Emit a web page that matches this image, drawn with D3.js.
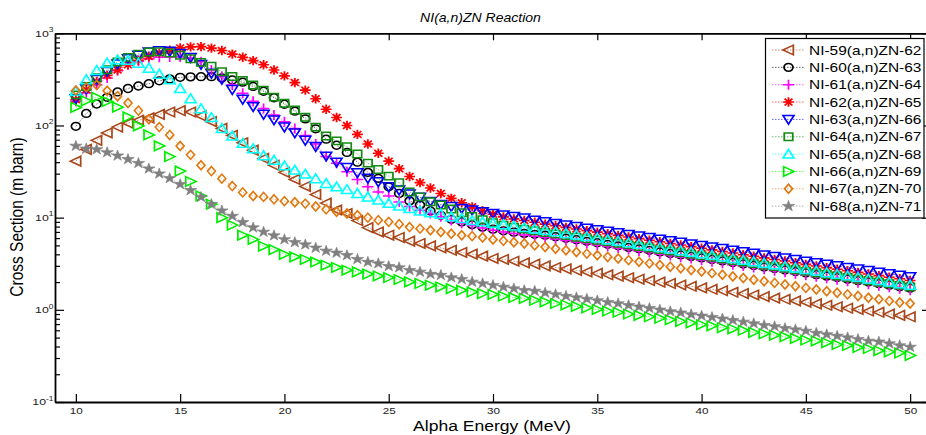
<!DOCTYPE html>
<html><head><meta charset="utf-8">
<script src="https://cdn.jsdelivr.net/npm/d3@7"></script>
<style>
html,body{margin:0;padding:0;background:#fff;}
svg{display:block;font-family:"Liberation Sans",Arial,Helvetica,sans-serif;}
</style></head><body>
<svg id="chart" width="926" height="435"></svg>
<script>
// ---------------- DATA ----------------
const energy = [10,10.5,11,11.5,12,12.5,13,13.5,14,14.5,15,15.5,16,16.5,17,17.5,18,18.5,19,19.5,
  20,20.5,21,21.5,22,22.5,23,23.5,24,24.5,25,25.5,26,26.5,27,27.5,28,28.5,29,29.5,
  30,30.5,31,31.5,32,32.5,33,33.5,34,34.5,35,35.5,36,36.5,37,37.5,38,38.5,39,39.5,
  40,40.5,41,41.5,42,42.5,43,43.5,44,44.5,45,45.5,46,46.5,47,47.5,48,48.5,49,49.5,50];

const seriesNames = ["NI-59(a,n)ZN-62","NI-60(a,n)ZN-63","NI-61(a,n)ZN-64","NI-62(a,n)ZN-65","NI-63(a,n)ZN-66",
  "NI-64(a,n)ZN-67","NI-65(a,n)ZN-68","NI-66(a,n)ZN-69","NI-67(a,n)ZN-70","NI-68(a,n)ZN-71"];

const ni59 = [41,55,69,83,96,106,114,121,132,140,
  145,140,127,110,93,78,65,54,44,37,
  31,26,21.8,17.8,14.4,12.1,11.1,9.3,7.8,7.0,
  6.45,6.1,5.56,5.25,4.94,4.7,4.43,4.19,4.02,3.82,
  3.61,3.52,3.37,3.23,3.13,3.0,2.88,2.78,2.68,2.58,
  2.49,2.40,2.32,2.23,2.15,2.08,2.00,1.93,1.86,1.80,
  1.73,1.67,1.61,1.55,1.50,1.45,1.39,1.34,1.30,1.25,
  1.21,1.16,1.12,1.08,1.04,1.01,0.97,0.94,0.90,0.87,
  0.84];
const ni60 = [98,135,171,202,231,252,268,284,305,320,
  333,337,338,338,328,312,295,265,235,200,
  170,143,118,92,71,61,51,40,31,26.7,
  21.6,18.3,15.2,13.7,11.8,10.6,9.6,9.0,8.4,7.9,
  7.5,7.2,6.95,6.75,6.6,6.45,6.21,5.98,5.76,5.54,
  5.34,5.14,4.95,4.76,4.59,4.42,4.25,4.09,3.94,3.80,
  3.66,3.52,3.39,3.26,3.14,3.03,2.91,2.81,2.70,2.60,
  2.51,2.41,2.32,2.24,2.15,2.07,2.00,1.92,1.85,1.78,
  1.72];
const ni61 = [183,225,277,327,393,456,497,529,550,553,
  552,535,490,400,340,275,224,183,153,130,
  110,93,78,63,46,39,31.5,26,21.6,19,
  17.2,14.8,13.2,12.0,11.1,10.2,9.3,8.7,8.2,7.7,
  7.3,7.0,6.75,6.5,6.3,6.1,5.87,5.66,5.45,5.24,
  5.05,4.86,4.68,4.51,4.34,4.18,4.03,3.88,3.73,3.60,
  3.46,3.33,3.21,3.09,2.98,2.87,2.76,2.66,2.56,2.47,
  2.37,2.29,2.20,2.12,2.04,1.97,1.89,1.82,1.76,1.69,
  1.63];
const ni62 = [190,245,300,350,400,455,510,560,610,655,
  695,712,716,690,650,595,550,505,455,400,
  345,292,242,195,150,122,100,80,63,50,
  41,34,28,24,21,18.3,16.2,14.5,13.1,11.9,
  10.9,10.2,9.7,9.3,8.9,8.5,8.17,7.84,7.54,7.24,
  6.96,6.68,6.42,6.17,5.92,5.69,5.47,5.25,5.05,4.85,
  4.66,4.47,4.30,4.13,3.96,3.81,3.66,3.51,3.38,3.24,
  3.11,2.99,2.87,2.76,2.65,2.55,2.45,2.35,2.26,2.17,
  2.08];
const ni63 = [195,250,315,386,465,530,577,627,647,637,
  605,545,460,368,316,245,192,160,132,115,
  96,83,69,59,46.5,40,35,30.7,26.7,24.5,
  21.6,19.9,18.0,16.6,15.0,13.9,13.2,12.6,12.1,11.6,
  11.1,10.7,10.3,9.9,9.4,9.0,8.65,8.32,8.00,7.69,
  7.40,7.11,6.84,6.57,6.32,6.08,5.84,5.62,5.40,5.19,
  4.99,4.80,4.62,4.44,4.27,4.10,3.94,3.79,3.65,3.51,
  3.37,3.24,3.12,3.00,2.88,2.77,2.67,2.56,2.46,2.37,
  2.28];
const ni64 = [215,265,330,403,488,548,595,627,630,612,
  578,530,484,440,383,340,308,275,242,203,
  174,147,123,96,77,68,59,49,39,33.3,
  28.2,23.9,19,16.8,14.9,13.7,12.4,11.3,10.3,9.5,
  8.8,8.3,7.9,7.5,7.2,6.9,6.64,6.38,6.14,5.91,
  5.68,5.47,5.26,5.06,4.86,4.68,4.50,4.33,4.16,4.00,
  3.85,3.71,3.56,3.43,3.30,3.17,3.05,2.94,2.82,2.72,
  2.61,2.51,2.42,2.33,2.24,2.15,2.07,1.99,1.92,1.84,
  1.77];
const ni65 = [235,314,396,476,515,510,474,418,360,314,
  252,195,152,122,93,77,64,56,47,42,
  36.5,32.8,29.7,26.5,23.5,21.6,20.2,18.3,16.8,15.5,
  14.3,13.4,12.6,11.8,11.3,10.9,10.2,9.8,9.3,9.0,
  8.7,8.4,8.1,7.8,7.55,7.3,7.02,6.75,6.49,6.24,
  6.00,5.77,5.55,5.33,5.13,4.93,4.74,4.56,4.38,4.21,
  4.05,3.90,3.75,3.60,3.46,3.33,3.20,3.08,2.96,2.85,
  2.74,2.63,2.53,2.43,2.34,2.25,2.16,2.08,2.00,1.92,
  1.85];
const ni66 = [157,185,202,182,158,124,99,79,60,46,
  32,24.7,17.2,14.0,10.0,8.3,6.45,5.8,4.9,4.5,
  4.0,3.75,3.52,3.3,3.05,2.88,2.69,2.58,2.44,2.33,
  2.24,2.13,2.01,1.93,1.85,1.77,1.70,1.63,1.56,1.50,
  1.47,1.41,1.36,1.33,1.27,1.22,1.17,1.13,1.09,1.05,
  1.01,0.97,0.94,0.90,0.87,0.84,0.81,0.78,0.75,0.72,
  0.69,0.67,0.64,0.62,0.60,0.57,0.55,0.53,0.51,0.49,
  0.47,0.46,0.44,0.42,0.41,0.39,0.38,0.36,0.35,0.34,
  0.32];
const ni67 = [240,258,275,238,208,175,145,117,96,79,
  60,48,37,32,26.5,22,18.8,17.2,16.8,15.8,
  15.1,14.7,14.2,13.2,12.3,11.6,11.1,10.6,10.0,9.4,
  9.0,8.5,7.9,7.6,7.3,7.0,6.7,6.45,6.3,6.1,
  5.8,5.6,5.4,5.25,5.0,4.8,4.6,4.42,4.24,4.07,
  3.91,3.75,3.60,3.46,3.32,3.19,3.06,2.94,2.82,2.71,
  2.60,2.50,2.40,2.30,2.21,2.12,2.04,1.96,1.88,1.80,
  1.73,1.66,1.59,1.53,1.47,1.41,1.35,1.30,1.25,1.20,
  1.17];
const ni68 = [60,56,55,51,47,43,39,34,30,26.7,
  23,19.8,16.7,14.0,11.9,10.4,8.9,7.8,7.0,6.4,
  5.8,5.4,5.1,4.7,4.36,4.15,3.9,3.54,3.3,3.18,
  2.97,2.88,2.69,2.58,2.44,2.38,2.24,2.15,2.01,1.93,
  1.85,1.77,1.70,1.63,1.60,1.53,1.47,1.41,1.36,1.31,
  1.26,1.21,1.17,1.12,1.08,1.04,1.00,0.96,0.93,0.89,
  0.86,0.83,0.80,0.77,0.74,0.71,0.68,0.66,0.63,0.61,
  0.59,0.56,0.54,0.52,0.50,0.48,0.46,0.45,0.43,0.41,
  0.395];

const xTickValues = [10,15,20,25,30,35,40,45,50];
const yTickValues = [0.1,1,10,100,1000];
const yTickExponents = ["-1","0","1","2","3"];
const titleText = "NI(a,n)ZN Reaction";
const xLabelText = "Alpha Energy (MeV)";
const yLabelText = "Cross Section (m barn)";

// ---------------- STYLES ----------------
const seriesValues = [ni59,ni60,ni61,ni62,ni63,ni64,ni65,ni66,ni67,ni68];
const seriesColors = ["#a8461a","#000000","#ff00ff","#ff0000","#0000ff","#138a13","#00ffff","#00ee00","#e07810","#808080"];
const seriesMarkers = ["triLeft","circle","plus","asterisk","triDown","square","triUp","triRight","diamond","star"];

const markerPaths = {
  triLeft: "M-4.8,0L4.2,-4.8L4.2,4.8Z",
  triRight: "M4.8,0L-4.2,-4.8L-4.2,4.8Z",
  triDown: "M0,4.8L-4.8,-4L4.8,-4Z",
  triUp: "M0,-4.8L-4.8,4L4.8,4Z",
  circle: "M3.9,0A3.9,3.9 0 1,1 -3.9,0A3.9,3.9 0 1,1 3.9,0Z",
  square: "M-3.7,-3.7H3.7V3.7H-3.7Z",
  diamond: "M0,-4.5L3.5,0L0,4.5L-3.5,0Z",
  plus: "M-5,0H5M0,-5V5",
  asterisk: "M-4.7,0H4.7M0,-4.7V4.7M-3.4,-3.4L3.4,3.4M-3.4,3.4L3.4,-3.4",
  star: d3.symbol(d3.symbolStar, 36)()
};
const SX = 1.15; // horizontal stretch of the original rendering

// ---------------- CHART ----------------
const W = 926, H = 435;
const svg = d3.select("#chart");
svg.append("rect").attr("width", W).attr("height", H).attr("fill", "#fff");

const x = d3.scaleLinear().domain([9, 51]).range([55, 931]);
const y = d3.scaleLog().domain([0.1, 1000]).range([402, 33.3]);

svg.append("defs").append("clipPath").attr("id", "clip")
  .append("rect").attr("x", 55).attr("y", 33.3).attr("width", 876).attr("height", 368.7);

const plot = svg.append("g").attr("clip-path", "url(#clip)");
const line = d3.line().x((d, i) => x(energy[i])).y(d => y(d));

function markerStroke(mk) { return mk === "star" ? 0.6 : (mk === "asterisk" ? 1.6 : 1.5); }

seriesValues.forEach((vals, k) => {
  const g = plot.append("g");
  const col = seriesColors[k];
  g.append("path").datum(vals).attr("d", line)
    .attr("fill", "none").attr("stroke", col).attr("stroke-width", 1)
    .attr("stroke-dasharray", "1.5,1.5").attr("opacity", 0.55);
  const mk = seriesMarkers[k];
  g.selectAll("path.m").data(vals).join("path").attr("class", "m")
    .attr("transform", (d, i) => `translate(${x(energy[i])},${y(d)}) scale(${SX},1)`)
    .attr("d", markerPaths[mk])
    .attr("fill", mk === "star" ? col : "none")
    .attr("stroke", col)
    .attr("stroke-width", markerStroke(mk));
});

// ---------------- AXES ----------------
const axisColor = "#000";
const gx = svg.append("g").attr("transform", "translate(0,402)")
  .call(d3.axisBottom(x).tickValues(xTickValues).tickSizeInner(-8).tickSizeOuter(0).tickPadding(6));
svg.append("g").attr("transform", "translate(0,33.3)")
  .call(d3.axisTop(x).tickValues(xTickValues).tickSizeInner(-7).tickSizeOuter(0).tickFormat(""));
svg.append("g").attr("transform", "translate(55,0)")
  .call(d3.axisLeft(y).tickValues(yTickValues).tickSizeInner(-9).tickSizeOuter(0).tickFormat(""));
svg.append("g").attr("transform", "translate(931,0)")
  .call(d3.axisRight(y).tickValues(yTickValues).tickSizeInner(-9).tickSizeOuter(0).tickFormat(""));

const minorVals = [];
[0.1, 1, 10, 100].forEach(d => { for (let m = 2; m <= 9; m++) minorVals.push(m * d); });
svg.append("g").attr("transform", "translate(55,0)")
  .call(d3.axisLeft(y).tickValues(minorVals).tickSizeInner(-5).tickSizeOuter(0).tickFormat(""))
  .call(g => g.select(".domain").remove());
svg.append("g").attr("transform", "translate(931,0)")
  .call(d3.axisRight(y).tickValues(minorVals).tickSizeInner(-5).tickSizeOuter(0).tickFormat(""))
  .call(g => g.select(".domain").remove());

svg.selectAll(".domain").attr("stroke", axisColor).attr("stroke-width", 1.8);
svg.selectAll(".tick line").attr("stroke", axisColor).attr("stroke-width", 1.2);

gx.selectAll(".tick text")
  .attr("font-size", 9).attr("fill", "#222")
  .attr("font-family", "Liberation Sans, Arial, sans-serif")
  .attr("transform", "scale(1.3,1)");

// y tick labels (10^n)
const yl = svg.append("g");
yTickValues.forEach((v, i) => {
  const t = yl.append("text")
    .attr("transform", `translate(53.5,${y(v) + 3.2}) scale(1.3,1)`)
    .attr("text-anchor", "end").attr("fill", "#222").attr("font-size", 9.5);
  t.append("tspan").text("10");
  t.append("tspan").attr("font-size", 6.5).attr("dy", -4.5).text(yTickExponents[i]);
});

// ---------------- TEXT ----------------
svg.append("text").text(titleText)
  .attr("transform", `translate(480.5,22) scale(1.08,1)`)
  .attr("text-anchor", "middle").attr("font-size", 13).attr("font-style", "italic").attr("fill", "#000");
svg.append("text").text(xLabelText)
  .attr("transform", `translate(492,431) scale(1.17,1)`)
  .attr("text-anchor", "middle").attr("font-size", 15).attr("fill", "#000");
svg.append("text").text(yLabelText)
  .attr("transform", `translate(22.5,217) scale(1.2,1) rotate(-90)`)
  .attr("text-anchor", "middle").attr("font-size", 15.5).attr("fill", "#000");

// ---------------- LEGEND ----------------
const lg = svg.append("g");
lg.append("rect").attr("x", 765.5).attr("y", 38.5).attr("width", 158.5).attr("height", 179.5)
  .attr("fill", "#fff").attr("stroke", "#000").attr("stroke-width", 1.2);
seriesNames.forEach((name, k) => {
  const cy = 50 + k * 17.35;
  const col = seriesColors[k];
  const mk = seriesMarkers[k];
  lg.append("line").attr("x1", 772).attr("x2", 805).attr("y1", cy).attr("y2", cy)
    .attr("stroke", col).attr("stroke-width", 1).attr("stroke-dasharray", "1.5,1.5").attr("opacity", 0.6);
  lg.append("path").attr("transform", `translate(788.5,${cy}) scale(${SX},1)`)
    .attr("d", markerPaths[mk])
    .attr("fill", mk === "star" ? col : "none").attr("stroke", col)
    .attr("stroke-width", markerStroke(mk));
  lg.append("text").text(name)
    .attr("transform", `translate(809,${cy + 4.6}) scale(1.19,1)`)
    .attr("font-size", 13).attr("fill", "#000");
});
</script>
</body></html>
